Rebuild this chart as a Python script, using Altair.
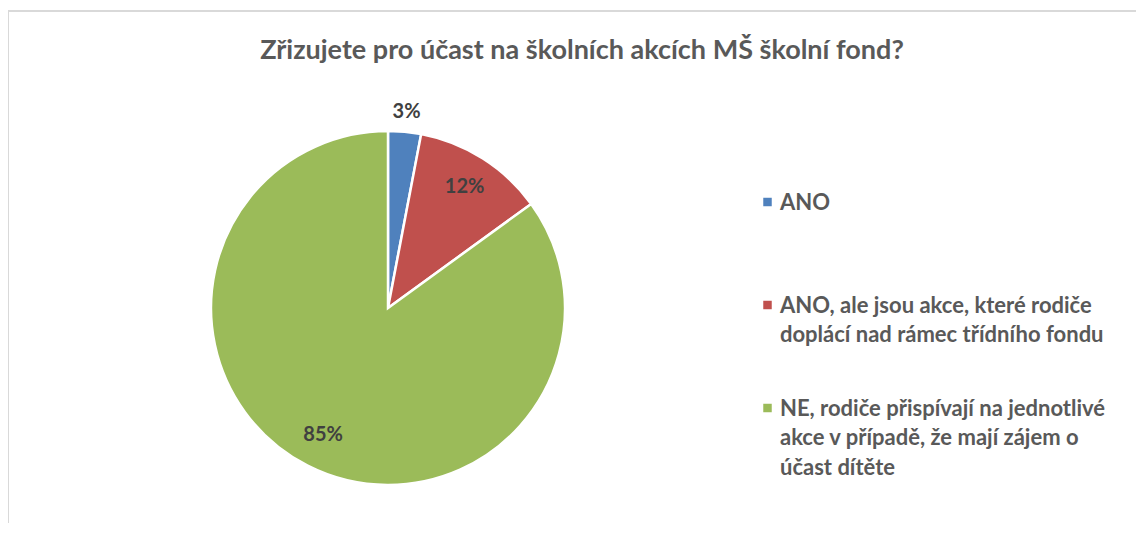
import altair as alt
import pandas as pd

title_text = "Zřizujete pro účast na školních akcích MŠ školní fond?"
categories = [
    "ANO",
    "ANO, ale jsou akce, které rodiče doplácí nad rámec třídního fondu",
    "NE, rodiče přispívají na jednotlivé akce v případě, že mají zájem o účast dítěte",
]
legend_labels = [
    "ANO",
    "ANO, ale jsou akce, které rodiče\ndoplácí nad rámec třídního fondu",
    "NE, rodiče přispívají na jednotlivé\nakce v případě, že mají zájem o\núčast dítěte",
]
values = [3, 12, 85]
colors = ["#4F81BD", "#C0504D", "#9BBB59"]

df = pd.DataFrame({
    "cat": categories,
    "label": legend_labels,
    "value": values,
    "order": list(range(len(categories))),
    "pct": [f"{v}%" for v in values],
})
title_df = pd.DataFrame({"title": [title_text]})

FONT = "Lato"
CX, CY = 380, 230
color_enc = alt.Color("cat:N", scale=alt.Scale(domain=categories, range=colors), legend=None)
theta_enc = alt.Theta("value:Q", stack=True)
order_enc = alt.Order("order:Q")

base = alt.Chart(df)

pie = base.mark_arc(radius=177, stroke="white", strokeWidth=2.5).encode(
    theta=theta_enc, color=color_enc, order=order_enc,
    x=alt.value(CX), y=alt.value(CY),
)

lbl_in = base.mark_text(radius=143, fontSize=20, fontWeight="bold", font=FONT,
                        color="#404040", baseline="middle", align="center").encode(
    theta=theta_enc, order=order_enc,
    text=alt.condition("datum.value >= 10", "pct:N", alt.value("")),
    x=alt.value(CX), y=alt.value(CY),
)
lbl_out = base.mark_text(radius=197, fontSize=20, fontWeight="bold", font=FONT,
                         color="#404040", baseline="middle", align="center").encode(
    theta=theta_enc, order=order_enc,
    text=alt.condition("datum.value < 10", "pct:N", alt.value("")),
    x=alt.value(CX), y=alt.value(CY),
)

leg_y = alt.Y("cat:N", scale=alt.Scale(type="point", domain=categories, range=[124, 330], padding=0), axis=None)
leg_sym = base.mark_square(size=72, opacity=1).encode(
    x=alt.value(759.5), y=leg_y, color=color_enc,
)
leg_txt = base.mark_text(align="left", baseline="alphabetic", dy=7.5, lineBreak="\n", lineHeight=29.5,
                         fontSize=22, fontWeight="bold", font=FONT, color="#595959").encode(
    x=alt.value(772), y=leg_y, text="label:N",
)

title = alt.Chart(title_df).mark_text(align="center", baseline="alphabetic", fontSize=27,
                                      fontWeight="bold", font=FONT, color="#595959").encode(
    x=alt.value(574), y=alt.value(-19), text="title:N",
)

frame_left = base.mark_rule(color="#d9d9d9", strokeWidth=2).encode(
    x=alt.value(0), y=alt.value(-67), y2=alt.value(445),
)
frame_top = base.mark_rule(color="#d9d9d9", strokeWidth=2).encode(
    x=alt.value(0), x2=alt.value(1128), y=alt.value(-67),
)

chart = alt.layer(frame_left, frame_top, title, pie, lbl_in, lbl_out, leg_sym, leg_txt).properties(
    width=1128, height=445,
    padding={"top": 70, "left": 0, "right": 0, "bottom": 0},
    autosize=alt.AutoSizeParams(type="none"),
).configure_view(stroke=None)

chart.save("out.html", embed_options={"renderer": "svg", "actions": False})
